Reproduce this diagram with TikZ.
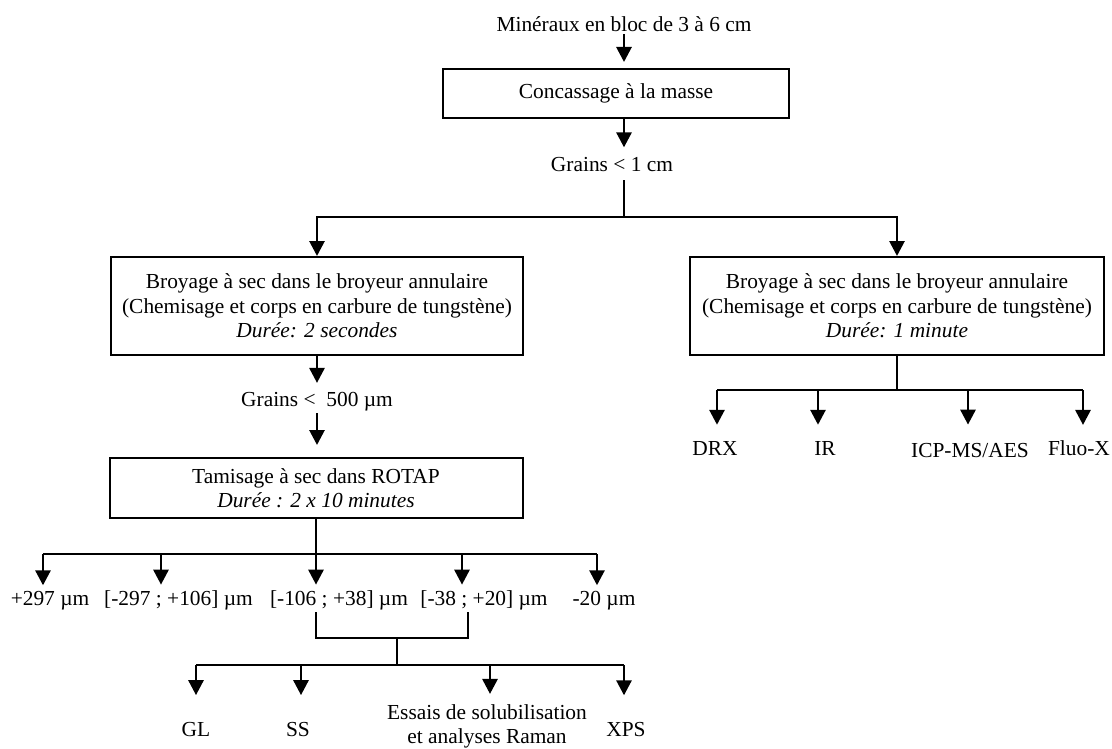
\documentclass[tikz,border=0pt]{standalone}
\usepackage{fontspec}
\setmainfont{Liberation Serif}
\usetikzlibrary{arrows.meta}
\begin{document}
\begin{tikzpicture}[x=1pt,y=-1pt,
  lbl/.style={inner sep=2pt, font=\fontsize{21.4}{24.5}\selectfont, align=center},
  procbox/.style={draw, line width=2pt, inner sep=0pt, align=center, font=\fontsize{21.4}{24.5}\selectfont},
  conn/.style={line width=2.8pt},
  arr/.style={conn, -{Triangle[width=15pt,length=15pt]}}]
\useasboundingbox (0,0) rectangle (1112,749);

% top chain
\node[lbl] (m) at (624,24.5) {Minéraux en bloc de 3 à 6 cm};
\node[procbox, minimum width=346pt, minimum height=49pt] (conc) at (616,93.5) {Concassage à la masse};
\node[lbl] (g1) at (612,164.75) {Grains < 1 cm};
\draw[arr, shorten >=6pt] (m.south) -- (m.south |- conc.north);
\draw[arr, shorten >=8pt] (m.south |- conc.south) -- (m.south |- g1.north);

\node[procbox, minimum width=412pt, minimum height=98pt] (b1) at (317,306)
  {Broyage à sec dans le broyeur annulaire\\(Chemisage et corps en carbure de tungstène)\\\textit{Durée: 2 secondes}};
\node[procbox, minimum width=414pt, minimum height=98pt] (b2) at (897,306)
  {Broyage à sec dans le broyeur annulaire\\(Chemisage et corps en carbure de tungstène)\\\textit{Durée: 1 minute}};

\coordinate (s1) at (624,217);
\draw[conn, shorten <=6pt] (m.south |- g1.south) -- (s1);
\draw[arr] (s1) -| (b1.north);
\draw[arr] (s1) -| (b2.north);

% left chain
\node[lbl] (g2) at (317,401.5) {Grains <\ \ 500 µm};
\node[procbox, minimum width=413pt, minimum height=60pt] (tam) at (316,488)
  {Tamisage à sec dans ROTAP\\\textit{Durée : 2 x 10 minutes}};
\draw[arr, shorten >=7pt] (b1.south) -- (g2.north);
\draw[arr, shorten >=12pt] (g2.south) -- (g2.south |- tam.north);

% sieve fractions
\coordinate (s2) at (316,554);
\coordinate (t1) at (43,554);
\coordinate (t2) at (161,554);
\coordinate (t4) at (462,554);
\coordinate (t5) at (597,554);
\node[lbl, anchor=base] (L1) at (50,605.7) {+297 µm};
\node[lbl, anchor=base] (L2) at (178.5,605.7) {[-297 ; +106] µm};
\node[lbl, anchor=base] (L3) at (339,605.7) {[-106 ; +38] µm};
\node[lbl, anchor=base] (L4) at (484,605.7) {[-38 ; +20] µm};
\node[lbl, anchor=base] (L5) at (604,605.7) {-20 µm};
\draw[conn] (tam.south) -- (s2);
\draw[conn] (t1) -- (t5);
\draw[arr, shorten >=4pt] (t1) -- (t1 |- L1.north);
\draw[arr, shorten >=4pt] (t2) -- (t2 |- L2.north);
\draw[arr, shorten >=4pt] (s2) -- (s2 |- L3.north);
\draw[arr, shorten >=4pt] (t4) -- (t4 |- L4.north);
\draw[arr, shorten >=4pt] (t5) -- (t5 |- L5.north);

% bracket
\coordinate (k1) at (316,638);
\coordinate (k2) at (468,638);
\coordinate (k3) at (397,638);
\coordinate (s3) at (397,665);
\draw[conn] (L3.south -| k1) -- (k1) -- (k2) -- (L4.south -| k2);
\draw[conn] (k3) -- (s3);

% analyses
\coordinate (u1) at (196,665);
\coordinate (u2) at (301,665);
\coordinate (u3) at (490,665);
\coordinate (u4) at (624,665);
\node[lbl, anchor=base] (GL) at (196,736.5) {GL};
\node[lbl, anchor=base] (SS) at (298,736.5) {SS};
\node[lbl, anchor=base] (ES) at (487,743.5) {Essais de solubilisation\\et analyses Raman};
\node[lbl, anchor=base] (XPS) at (626,736.7) {XPS};
\draw[conn] (u1) -- (u4);
\draw[arr, shorten >=25pt] (u1) -- (u1 |- GL.north);
\draw[arr, shorten >=25pt] (u2) -- (u2 |- SS.north);
\draw[arr, shorten >=8pt] (u3) -- (u3 |- ES.north);
\draw[arr, shorten >=25pt] (u4) -- (u4 |- XPS.north);

% right branch
\coordinate (r0) at (897,390);
\coordinate (r1) at (717,390);
\coordinate (r2) at (818,390);
\coordinate (r3) at (968,390);
\coordinate (r4) at (1083,390);
\node[lbl, anchor=base] (DRX) at (715,455) {DRX};
\node[lbl, anchor=base] (IR) at (825,455) {IR};
\node[lbl, anchor=base] (ICP) at (970,457) {ICP-MS/AES};
\node[lbl, anchor=base] (FX) at (1079,455) {Fluo-X};
\draw[conn] (b2.south) -- (r0);
\draw[conn] (r1) -- (r4);
\draw[arr, shorten >=14pt] (r1) -- (r1 |- DRX.north);
\draw[arr, shorten >=14pt] (r2) -- (r2 |- IR.north);
\draw[arr, shorten >=16pt] (r3) -- (r3 |- ICP.north);
\draw[arr, shorten >=13pt] (r4) -- (r4 |- FX.north);
\end{tikzpicture}
\end{document}
